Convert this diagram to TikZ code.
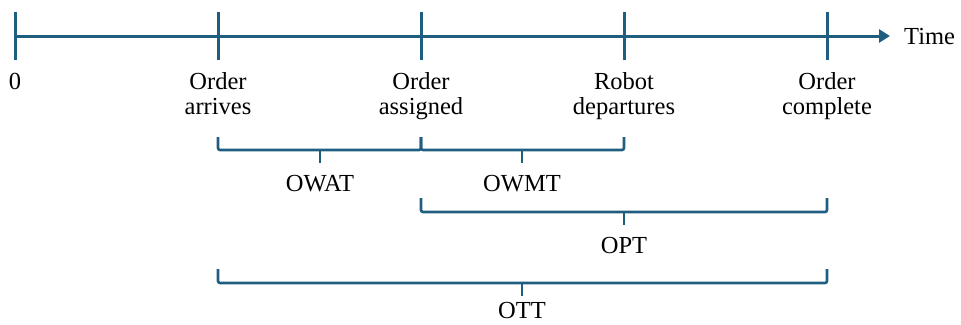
\documentclass[tikz,border=0pt]{standalone}
\usepackage{fontspec}
\setmainfont{Liberation Serif}
\usetikzlibrary{arrows.meta}
\definecolor{axisblue}{RGB}{31,94,128}
\begin{document}
\begin{tikzpicture}[x=1pt,y=-1pt,
  axis/.style={draw=axisblue,line width=3pt},
  tick/.style={draw=axisblue,line width=3pt},
  bracket/.style={draw=axisblue,line width=2.6pt,rounded corners=2pt},
  bracemid/.style={draw=axisblue,line width=2.6pt},
  lbl/.style={font=\fontsize{24.5}{25}\selectfont,align=center,inner sep=0pt,anchor=base},
  span/.style={font=\fontsize{24.5}{25}\selectfont,inner sep=0pt,anchor=base}]
\useasboundingbox (0,0) rectangle (961,324);

% time axis and ticks
\coordinate (t0) at (15,36);
\coordinate (t1) at (218,36);
\coordinate (t2) at (421,36);
\coordinate (t3) at (624,36);
\coordinate (t4) at (827,36);
\coordinate (tend) at (890,36);
\draw[axis,-{Triangle[length=11pt,width=13pt]}] (t0) -- (tend);
\foreach \t in {t0,t1,t2,t3,t4}
  \draw[tick] ([yshift=-24pt]\t) -- ([yshift=24pt]\t);
\node[lbl,anchor=base west] (time) at (904,44) {Time};

% event labels (anchor = baseline of the last line)
\node[lbl] (zero) at (15,89) {0};
\node[lbl] (arr) at (218,114) {Order\\arrives};
\node[lbl] (asg) at (421,114) {Order\\assigned};
\node[lbl] (dep) at (624,114) {Robot\\departures};
\node[lbl] (cmp) at (827,114) {Order\\complete};

% interval brackets
\draw[bracket] (218,137) |- (421,150) -- (421,137);
\draw[bracemid] (320,150) -- (320,163);
\node[span] (owat) at (320,191) {OWAT};

\draw[bracket] (421,137) |- (624,150) -- (624,137);
\draw[bracemid] (522,150) -- (522,163);
\node[span] (owmt) at (522,191) {OWMT};

\draw[bracket] (421,198) |- (827,212) -- (827,198);
\draw[bracemid] (624,212) -- (624,225);
\node[span] (opt) at (624,253) {OPT};

\draw[bracket] (218,269) |- (827,283) -- (827,269);
\draw[bracemid] (522,283) -- (522,296);
\node[span] (ott) at (522,318) {OTT};
\end{tikzpicture}
\end{document}
